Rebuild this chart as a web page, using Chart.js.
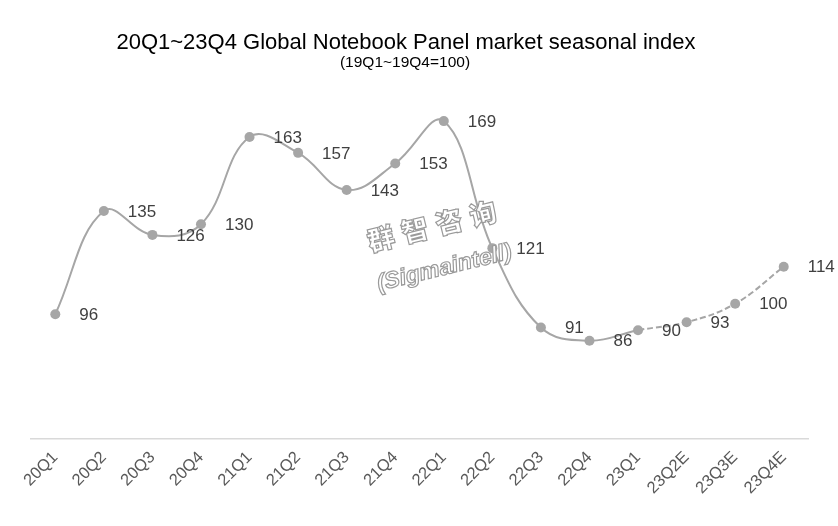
<!DOCTYPE html>
<html><head><meta charset="utf-8">
<script src="https://cdn.jsdelivr.net/npm/chart.js@4.4.1/dist/chart.umd.min.js"></script>
<style>html,body{margin:0;padding:0;background:#fff;}#wrap{width:838px;height:526px;}</style>
</head><body><div id="wrap"><canvas id="c" width="838" height="526"></canvas></div>
<script>
const categories = ["20Q1","20Q2","20Q3","20Q4","21Q1","21Q2","21Q3","21Q4","22Q1","22Q2","22Q3","22Q4","23Q1","23Q2E","23Q3E","23Q4E"];
const values = [96,135,126,130,163,157,143,153,169,121,91,86,90,93,100,114];
const valueLabels = ["96","135","126","130","163","157","143","153","169","121","91","86","90","93","100","114"];
const titleText = "20Q1~23Q4 Global Notebook Panel market seasonal index";
const subtitleText = "(19Q1~19Q4=100)";
const watermarkCn = ["群","智","咨","询"];
const watermarkEn = "(Sigmaintell)";
const forecastStartIndex = 12;

const FONT = "'Liberation Sans', Arial, sans-serif";
const lineColor = '#a6a6a6';

const titlePlugin = {
  id: 'titles',
  beforeDraw(chart) {
    const ctx = chart.ctx;
    ctx.save();
    ctx.fillStyle = '#000';
    ctx.textAlign = 'center';
    ctx.textBaseline = 'alphabetic';
    ctx.font = '22px ' + FONT;
    ctx.fillText(titleText, 406, 49);
    ctx.font = '15.5px ' + FONT;
    ctx.fillText(subtitleText, 405, 67);
    ctx.restore();
  }
};

const labelPlugin = {
  id: 'labels',
  afterDatasetsDraw(chart) {
    const ctx = chart.ctx;
    // watermark
    ctx.save();
    ctx.translate(432, 226);
    ctx.rotate(-0.24);
    ctx.lineWidth = 1.2;
    ctx.strokeStyle = '#9a9a9a';
    ctx.fillStyle = 'rgba(255,255,255,0.92)';
    ctx.textAlign = 'center';
    ctx.textBaseline = 'middle';
    ctx.font = "900 27px 'Noto Sans CJK SC'";
    watermarkCn.forEach((ch, i) => {
      const x = (i - 1.5) * 35;
      ctx.fillText(ch, x, 0);
      ctx.strokeText(ch, x, 0);
    });
    ctx.font = "italic bold 23px " + FONT;
    ctx.fillText(watermarkEn, 2, 44);
    ctx.strokeText(watermarkEn, 2, 44);
    ctx.restore();

    // data labels
    const meta = chart.getDatasetMeta(0);
    ctx.save();
    ctx.fillStyle = '#404040';
    ctx.font = '17px ' + FONT;
    ctx.textAlign = 'left';
    ctx.textBaseline = 'middle';
    meta.data.forEach((pt, i) => {
      ctx.fillText(valueLabels[i], pt.x + 24, pt.y + 1);
    });
    ctx.restore();
  }
};

new Chart(document.getElementById('c'), {
  type: 'line',
  data: {
    labels: categories,
    datasets: [{
      data: values,
      borderColor: lineColor,
      backgroundColor: lineColor,
      borderWidth: 2,
      pointRadius: 5,
      pointBackgroundColor: lineColor,
      pointBorderWidth: 0,
      tension: 0.4,
      fill: false,
      segment: {
        borderDash: ctx => ctx.p0DataIndex >= forecastStartIndex ? [6, 3] : undefined
      }
    }]
  },
  options: {
    responsive: false,
    animation: false,
    devicePixelRatio: 1,
    layout: { padding: { top: 92, left: 31, right: 30, bottom: 19 } },
    plugins: { legend: { display: false }, title: { display: false }, tooltip: { enabled: false } },
    scales: {
      x: {
        offset: true,
        grid: { display: false, drawTicks: false },
        border: { display: true, color: '#d9d9d9', width: 1.5 },
        ticks: { color: '#595959', font: { size: 16.5, family: FONT }, minRotation: 45, maxRotation: 45, autoSkip: false, padding: 9 }
      },
      y: { display: false, min: 49, max: 180 }
    }
  },
  plugins: [titlePlugin, labelPlugin]
});
</script></body></html>
